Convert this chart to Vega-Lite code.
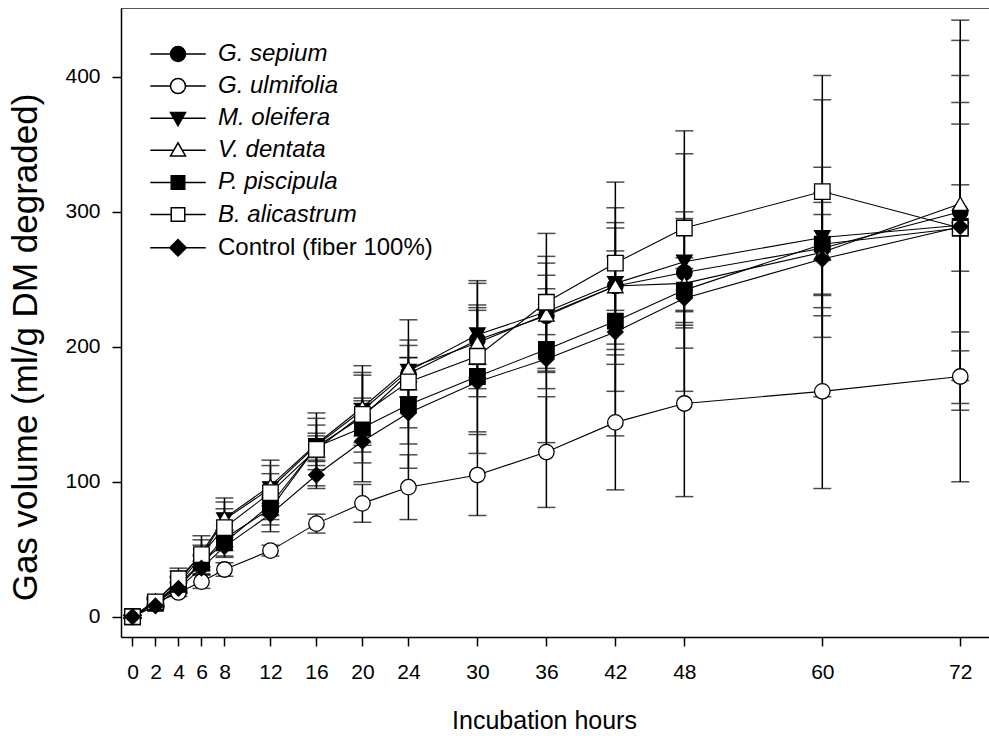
{
  "$schema": "https://vega.github.io/schema/vega-lite/v6.json",
  "width": 868,
  "height": 629,
  "autosize": {"type": "none"},
  "padding": {"left": 121, "top": 8, "right": 0, "bottom": 99},
  "background": "white",
  "config": {"view": {"stroke": "#555", "strokeWidth": 1}, "font": "Liberation Sans"},
  "data": {"values": [
    {"series": "G. sepium", "hours": 0, "gas": 0, "err": 1},
    {"series": "G. sepium", "hours": 2, "gas": 10, "err": 3},
    {"series": "G. sepium", "hours": 4, "gas": 22, "err": 4},
    {"series": "G. sepium", "hours": 6, "gas": 40, "err": 5},
    {"series": "G. sepium", "hours": 8, "gas": 58, "err": 6},
    {"series": "G. sepium", "hours": 12, "gas": 80, "err": 8},
    {"series": "G. sepium", "hours": 16, "gas": 126, "err": 10},
    {"series": "G. sepium", "hours": 20, "gas": 148, "err": 14},
    {"series": "G. sepium", "hours": 24, "gas": 180, "err": 12},
    {"series": "G. sepium", "hours": 30, "gas": 205, "err": 42},
    {"series": "G. sepium", "hours": 36, "gas": 223, "err": 39},
    {"series": "G. sepium", "hours": 42, "gas": 245, "err": 47},
    {"series": "G. sepium", "hours": 48, "gas": 255, "err": 88},
    {"series": "G. sepium", "hours": 60, "gas": 273, "err": 110},
    {"series": "G. sepium", "hours": 72, "gas": 300, "err": 142},

    {"series": "G. ulmifolia", "hours": 0, "gas": 0, "err": 1},
    {"series": "G. ulmifolia", "hours": 2, "gas": 10, "err": 2},
    {"series": "G. ulmifolia", "hours": 4, "gas": 18, "err": 3},
    {"series": "G. ulmifolia", "hours": 6, "gas": 26, "err": 5},
    {"series": "G. ulmifolia", "hours": 8, "gas": 35, "err": 5},
    {"series": "G. ulmifolia", "hours": 12, "gas": 49, "err": 4},
    {"series": "G. ulmifolia", "hours": 16, "gas": 69, "err": 7},
    {"series": "G. ulmifolia", "hours": 20, "gas": 84, "err": 14},
    {"series": "G. ulmifolia", "hours": 24, "gas": 96, "err": 24},
    {"series": "G. ulmifolia", "hours": 30, "gas": 105, "err": 30},
    {"series": "G. ulmifolia", "hours": 36, "gas": 122, "err": 41},
    {"series": "G. ulmifolia", "hours": 42, "gas": 144, "err": 50},
    {"series": "G. ulmifolia", "hours": 48, "gas": 158, "err": 69},
    {"series": "G. ulmifolia", "hours": 60, "gas": 167, "err": 72},
    {"series": "G. ulmifolia", "hours": 72, "gas": 178, "err": 78},

    {"series": "M. oleifera", "hours": 0, "gas": 0, "err": 1},
    {"series": "M. oleifera", "hours": 2, "gas": 11, "err": 3},
    {"series": "M. oleifera", "hours": 4, "gas": 24, "err": 6},
    {"series": "M. oleifera", "hours": 6, "gas": 45, "err": 8},
    {"series": "M. oleifera", "hours": 8, "gas": 72, "err": 8},
    {"series": "M. oleifera", "hours": 12, "gas": 95, "err": 11},
    {"series": "M. oleifera", "hours": 16, "gas": 127, "err": 15},
    {"series": "M. oleifera", "hours": 20, "gas": 153, "err": 26},
    {"series": "M. oleifera", "hours": 24, "gas": 182, "err": 19},
    {"series": "M. oleifera", "hours": 30, "gas": 209, "err": 22},
    {"series": "M. oleifera", "hours": 36, "gas": 226, "err": 17},
    {"series": "M. oleifera", "hours": 42, "gas": 247, "err": 20},
    {"series": "M. oleifera", "hours": 48, "gas": 263, "err": 37},
    {"series": "M. oleifera", "hours": 60, "gas": 281, "err": 17},
    {"series": "M. oleifera", "hours": 72, "gas": 290, "err": 137},

    {"series": "V. dentata", "hours": 0, "gas": 0, "err": 1},
    {"series": "V. dentata", "hours": 2, "gas": 12, "err": 3},
    {"series": "V. dentata", "hours": 4, "gas": 26, "err": 8},
    {"series": "V. dentata", "hours": 6, "gas": 47, "err": 10},
    {"series": "V. dentata", "hours": 8, "gas": 73, "err": 12},
    {"series": "V. dentata", "hours": 12, "gas": 97, "err": 15},
    {"series": "V. dentata", "hours": 16, "gas": 128, "err": 19},
    {"series": "V. dentata", "hours": 20, "gas": 155, "err": 26},
    {"series": "V. dentata", "hours": 24, "gas": 184, "err": 21},
    {"series": "V. dentata", "hours": 30, "gas": 203, "err": 26},
    {"series": "V. dentata", "hours": 36, "gas": 224, "err": 43},
    {"series": "V. dentata", "hours": 42, "gas": 245, "err": 58},
    {"series": "V. dentata", "hours": 48, "gas": 247, "err": 48},
    {"series": "V. dentata", "hours": 60, "gas": 270, "err": 63},
    {"series": "V. dentata", "hours": 72, "gas": 306, "err": 14},

    {"series": "P. piscipula", "hours": 0, "gas": 0, "err": 1},
    {"series": "P. piscipula", "hours": 2, "gas": 10, "err": 3},
    {"series": "P. piscipula", "hours": 4, "gas": 24, "err": 5},
    {"series": "P. piscipula", "hours": 6, "gas": 40, "err": 6},
    {"series": "P. piscipula", "hours": 8, "gas": 55, "err": 6},
    {"series": "P. piscipula", "hours": 12, "gas": 83, "err": 8},
    {"series": "P. piscipula", "hours": 16, "gas": 126, "err": 8},
    {"series": "P. piscipula", "hours": 20, "gas": 140, "err": 18},
    {"series": "P. piscipula", "hours": 24, "gas": 157, "err": 17},
    {"series": "P. piscipula", "hours": 30, "gas": 178, "err": 9},
    {"series": "P. piscipula", "hours": 36, "gas": 198, "err": 29},
    {"series": "P. piscipula", "hours": 42, "gas": 219, "err": 52},
    {"series": "P. piscipula", "hours": 48, "gas": 242, "err": 24},
    {"series": "P. piscipula", "hours": 60, "gas": 276, "err": 38},
    {"series": "P. piscipula", "hours": 72, "gas": 288, "err": 113},

    {"series": "B. alicastrum", "hours": 0, "gas": 0, "err": 1},
    {"series": "B. alicastrum", "hours": 2, "gas": 11, "err": 3},
    {"series": "B. alicastrum", "hours": 4, "gas": 28, "err": 8},
    {"series": "B. alicastrum", "hours": 6, "gas": 46, "err": 14},
    {"series": "B. alicastrum", "hours": 8, "gas": 66, "err": 22},
    {"series": "B. alicastrum", "hours": 12, "gas": 92, "err": 24},
    {"series": "B. alicastrum", "hours": 16, "gas": 124, "err": 27},
    {"series": "B. alicastrum", "hours": 20, "gas": 150, "err": 36},
    {"series": "B. alicastrum", "hours": 24, "gas": 174, "err": 46},
    {"series": "B. alicastrum", "hours": 30, "gas": 193, "err": 56},
    {"series": "B. alicastrum", "hours": 36, "gas": 233, "err": 51},
    {"series": "B. alicastrum", "hours": 42, "gas": 262, "err": 60},
    {"series": "B. alicastrum", "hours": 48, "gas": 288, "err": 72},
    {"series": "B. alicastrum", "hours": 60, "gas": 315, "err": 86},
    {"series": "B. alicastrum", "hours": 72, "gas": 288, "err": 77},

    {"series": "Control (fiber 100%)", "hours": 0, "gas": 0, "err": 1},
    {"series": "Control (fiber 100%)", "hours": 2, "gas": 8, "err": 2},
    {"series": "Control (fiber 100%)", "hours": 4, "gas": 21, "err": 4},
    {"series": "Control (fiber 100%)", "hours": 6, "gas": 36, "err": 5},
    {"series": "Control (fiber 100%)", "hours": 8, "gas": 52, "err": 7},
    {"series": "Control (fiber 100%)", "hours": 12, "gas": 76, "err": 13},
    {"series": "Control (fiber 100%)", "hours": 16, "gas": 105, "err": 10},
    {"series": "Control (fiber 100%)", "hours": 20, "gas": 130, "err": 30},
    {"series": "Control (fiber 100%)", "hours": 24, "gas": 151, "err": 41},
    {"series": "Control (fiber 100%)", "hours": 30, "gas": 174, "err": 53},
    {"series": "Control (fiber 100%)", "hours": 36, "gas": 191, "err": 62},
    {"series": "Control (fiber 100%)", "hours": 42, "gas": 211, "err": 77},
    {"series": "Control (fiber 100%)", "hours": 48, "gas": 236, "err": 22},
    {"series": "Control (fiber 100%)", "hours": 60, "gas": 265, "err": 42},
    {"series": "Control (fiber 100%)", "hours": 72, "gas": 289, "err": 92}
  ]},
  "encoding": {
    "x": {
      "field": "hours", "type": "quantitative",
      "scale": {"domain": [-1, 74.5], "nice": false, "zero": false},
      "axis": {
        "values": [0, 2, 4, 6, 8, 12, 16, 20, 24, 30, 36, 42, 48, 60, 72],
        "title": "Incubation hours", "grid": false,
        "domainColor": "black", "domainWidth": 1.5,
        "tickColor": "black", "tickWidth": 1.5, "tickSize": 9,
        "labelFont": "Liberation Sans", "labelFontSize": 21, "labelColor": "black", "labelPadding": 15,
        "labelFlush": false, "labelOverlap": false, "labelBound": false,
        "titleFont": "Liberation Sans", "titleFontSize": 25, "titleFontWeight": "normal", "titleColor": "black",
        "titlePadding": 26, "titleX": 423
      }
    },
    "y": {
      "field": "gas", "type": "quantitative",
      "scale": {"domain": [-15, 451], "nice": false, "zero": false},
      "axis": {
        "values": [0, 100, 200, 300, 400],
        "title": "Gas volume (ml/g DM degraded)", "grid": false,
        "domainColor": "black", "domainWidth": 1.5,
        "tickColor": "black", "tickWidth": 1.5, "tickSize": 9,
        "labelFont": "Liberation Sans", "labelFontSize": 21, "labelColor": "black", "labelPadding": 12,
        "labelFlush": false, "labelOverlap": false,
        "titleFont": "Liberation Sans", "titleFontSize": 35, "titleFontWeight": "normal", "titleColor": "black",
        "titlePadding": 21, "titleY": 339
      }
    }
  },
  "resolve": {
    "scale": {"shape": "independent", "fill": "independent"},
    "legend": {"shape": "independent", "fill": "independent"}
  },
  "layer": [
    {
      "mark": {"type": "errorbar", "color": "black", "thickness": 1.5, "ticks": {"size": 18, "thickness": 1.5, "color": "black"}},
      "encoding": {"yError": {"field": "err"}}
    },
    {
      "mark": {"type": "line", "color": "black", "strokeWidth": 1.1},
      "encoding": {"detail": {"field": "series", "type": "nominal"}}
    },
    {
      "mark": {"type": "point", "filled": true, "stroke": "black", "strokeWidth": 1.3, "size": 240, "opacity": 1},
      "encoding": {
        "shape": {
          "field": "series", "type": "nominal",
          "scale": {
            "domain": ["G. sepium", "G. ulmifolia", "M. oleifera", "V. dentata", "P. piscipula", "B. alicastrum", "Control (fiber 100%)"],
            "range": ["circle", "circle", "triangle-down", "triangle-up", "square", "square", "diamond"]
          },
          "legend": null
        },
        "fill": {
          "field": "series", "type": "nominal",
          "scale": {
            "domain": ["G. sepium", "G. ulmifolia", "M. oleifera", "V. dentata", "P. piscipula", "B. alicastrum", "Control (fiber 100%)"],
            "range": ["black", "white", "black", "white", "black", "white", "black"]
          },
          "legend": null
        }
      }
    },
    {
      "transform": [{"filter": "datum.hours < 0"}],
      "mark": {"type": "point", "filled": true, "strokeWidth": 1.5, "size": 225, "opacity": 1},
      "encoding": {
        "stroke": {"value": "black"},
        "shape": {
          "field": "series", "type": "nominal",
          "scale": {
            "domain": ["G. sepium", "G. ulmifolia", "M. oleifera", "V. dentata", "P. piscipula", "B. alicastrum"],
            "range": [
              "M-3.7,0H-1M1,0H3.7M-1,0A1,1,0,1,0,1,0A1,1,0,1,0,-1,0Z",
              "M-3.7,0H-1M1,0H3.7M-1,0A1,1,0,1,0,1,0A1,1,0,1,0,-1,0Z",
              "M-3.7,0H-0.57M0.57,0H3.7M-1,-0.75L1,-0.75L0,1Z",
              "M-3.7,0H-0.57M0.57,0H3.7M-1,0.75L1,0.75L0,-1Z",
              "M-3.7,0H-0.9M0.9,0H3.7M-0.9,-0.9H0.9V0.9H-0.9Z",
              "M-3.7,0H-0.9M0.9,0H3.7M-0.9,-0.9H0.9V0.9H-0.9Z"
            ]
          },
          "legend": {
            "title": null, "orient": "none", "legendX": 45, "legendY": 34,
            "symbolSize": 225, "symbolStrokeWidth": 1.5,
            "labelFont": "Liberation Sans", "labelFontSize": 24, "labelFontStyle": "italic", "labelColor": "black", "labelOffset": 28, "labelLimit": 500,
            "rowPadding": 8.1
          }
        },
        "fill": {
          "field": "series", "type": "nominal",
          "scale": {
            "domain": ["G. sepium", "G. ulmifolia", "M. oleifera", "V. dentata", "P. piscipula", "B. alicastrum"],
            "range": ["black", "white", "black", "white", "black", "white"]
          },
          "legend": {
            "title": null, "orient": "none", "legendX": 45, "legendY": 34,
            "symbolSize": 225, "symbolStrokeWidth": 1.5,
            "labelFont": "Liberation Sans", "labelFontSize": 24, "labelFontStyle": "italic", "labelColor": "black", "labelOffset": 28, "labelLimit": 500,
            "rowPadding": 8.1
          }
        }
      }
    },
    {
      "transform": [{"filter": "datum.hours < 0"}],
      "mark": {"type": "point", "filled": true, "strokeWidth": 1.5, "size": 225, "opacity": 1},
      "encoding": {
        "stroke": {"value": "black"},
        "shape": {
          "field": "series", "type": "nominal",
          "scale": {
            "domain": ["Control (fiber 100%)"],
            "range": ["M-3.7,0H-1.1M1.1,0H3.7M0,-1.1L1.1,0L0,1.1L-1.1,0Z"]
          },
          "legend": {
            "title": null, "orient": "none", "legendX": 45, "legendY": 227.8,
            "symbolSize": 225, "symbolStrokeWidth": 1.5,
            "labelFont": "Liberation Sans", "labelFontSize": 24, "labelFontStyle": "normal", "labelColor": "black", "labelOffset": 28, "labelLimit": 500
          }
        },
        "fill": {
          "field": "series", "type": "nominal",
          "scale": {
            "domain": ["Control (fiber 100%)"],
            "range": ["black"]
          },
          "legend": {
            "title": null, "orient": "none", "legendX": 45, "legendY": 227.8,
            "symbolSize": 225, "symbolStrokeWidth": 1.5,
            "labelFont": "Liberation Sans", "labelFontSize": 24, "labelFontStyle": "normal", "labelColor": "black", "labelOffset": 28, "labelLimit": 500
          }
        }
      }
    }
  ]
}
